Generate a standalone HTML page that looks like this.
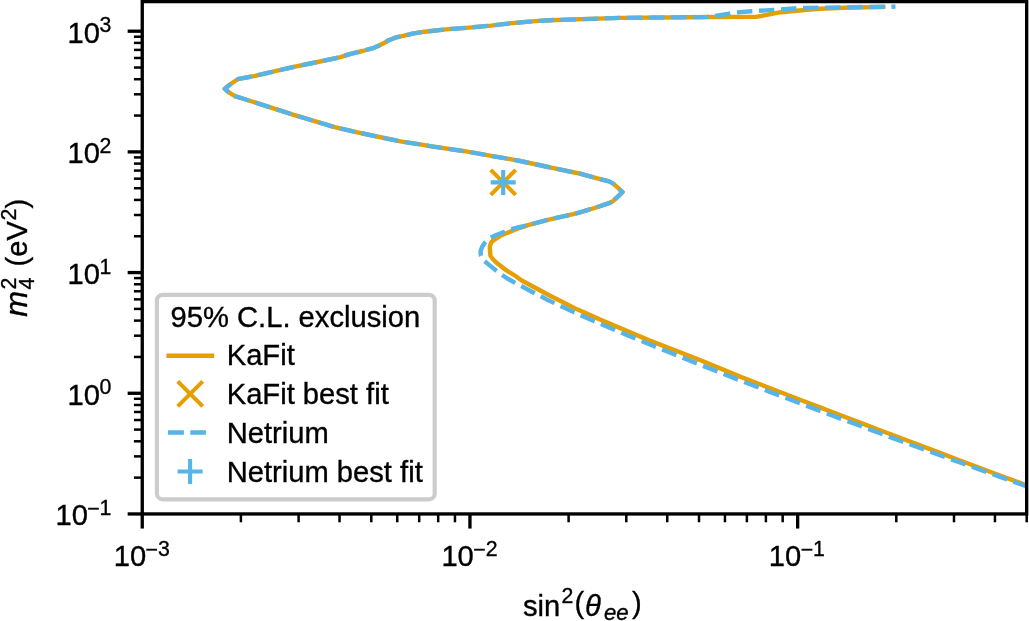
<!DOCTYPE html><html><head><meta charset="utf-8"><title>Plot</title><style>html,body{margin:0;padding:0;background:#fff;overflow:hidden}svg{display:block}</style></head><body><svg width="1029" height="621" viewBox="0 0 1029 621">
<defs><clipPath id="ax"><rect x="142.25" y="1.6" width="884.4200000000001" height="512.35"/></clipPath></defs>
<rect width="1029" height="621" fill="#fff"/>
<g clip-path="url(#ax)" fill="none" stroke-linejoin="round">
<polyline points="885.5,6.9 866.0,7.3 843.0,7.8 820.0,8.7 810.0,9.5 781.0,12.2 756.0,16.9 712.0,17.0 690.0,17.2 620.0,17.9 550.0,20.2 535.3,21.1 512.2,23.1 490.7,25.6 469.2,27.6 446.0,29.4 424.6,31.7 412.4,33.7 404.4,35.7 396.3,37.3 388.3,40.5 383.5,43.3 378.6,45.8 373.8,47.8 362.5,51.0 350.5,53.8 340.5,57.2 320.0,61.5 297.2,66.2 276.2,70.8 255.2,75.8 237.7,79.2 231.0,83.8 224.8,88.8 228.5,92.2 235.0,96.2 248.8,100.5 272.7,108.1 293.7,114.8 314.7,121.2 335.7,127.4 358.4,132.6 379.4,137.0 400.4,141.4 423.2,144.9 430.0,146.1 464.7,151.2 491.2,155.9 511.6,159.4 520.0,161.0 532.0,163.5 551.0,167.6 574.4,172.5 580.0,173.6 594.5,177.6 609.0,181.4 612.9,183.4 616.7,186.7 622.5,192.0 618.6,195.9 612.9,201.2 609.0,203.2 594.5,208.0 580.0,212.3 573.1,214.2 549.9,219.3 528.0,225.1 520.0,227.8 512.6,230.6 501.0,235.5 495.0,239.3 491.3,242.2 489.9,246.0 489.9,249.0 490.4,255.7 492.8,259.0 496.2,262.5 504.9,269.3 515.5,276.0 521.3,280.2 548.6,295.0 577.7,309.6 600.0,319.5 648.6,340.1 700.0,360.0 740.0,376.6 760.0,384.3 780.0,392.0 800.0,399.7 820.0,407.4 840.0,415.0 860.0,422.6 880.0,430.2 900.0,437.8 920.0,445.4 940.0,452.9 960.0,460.5 980.0,468.0 1000.0,475.5 1020.0,482.9 1045.0,492.2" stroke="#E69F00" stroke-width="4.4" stroke-linecap="butt"/>
<polyline points="895.5,6.6 885.0,6.8 850.0,7.2 800.0,8.0 773.5,9.9 759.0,10.8 751.7,11.3 736.5,12.4 729.5,13.6 715.0,16.0 707.0,16.9 700.0,17.1 690.0,17.2 620.0,17.9 550.0,20.2 535.3,21.1 512.2,23.1 490.7,25.6 469.2,27.6 446.0,29.4 424.6,31.7 412.4,33.7 404.4,35.7 396.3,37.3 388.3,40.5 383.5,43.3 378.6,45.8 373.8,47.8 362.5,51.0 350.5,53.8 340.5,57.2 320.0,61.5 297.2,66.2 276.2,70.8 255.2,75.8 237.7,79.2 231.0,83.8" stroke="#56B4E9" stroke-width="4.4" stroke-dasharray="15.42 6.67" stroke-dashoffset="11.30" stroke-linecap="butt"/>
<polyline points="231.0,83.8 224.8,88.8 228.5,92.2 235.0,96.2 248.8,100.5 272.7,108.1 293.7,114.8 314.7,121.2 335.7,127.4 358.4,132.6 379.4,137.0 400.4,141.4 423.2,144.9 430.0,146.1 464.7,151.2 491.2,155.9 511.6,159.4 520.0,161.0 532.0,163.5 551.0,167.6 574.4,172.5 580.0,173.6 594.5,177.6 609.0,181.4 612.9,183.4 616.7,186.7 622.5,192.0 618.6,195.9 612.9,201.2" stroke="#56B4E9" stroke-width="4.4" stroke-dasharray="15.42 6.67" stroke-dashoffset="2.05" stroke-linecap="butt"/>
<polyline points="612.9,201.2 609.0,203.2 594.5,208.0 580.0,212.3 573.1,214.2 549.9,219.3 528.0,225.1 517.6,227.5 510.6,229.4 503.9,232.0 496.9,234.7 490.0,237.8 485.5,242.0 482.3,246.5 480.6,251.0 480.8,255.5 482.8,258.8 484.5,261.2 490.0,265.6 495.5,270.0 502.0,275.0 508.7,279.3 527.2,289.2 546.6,299.4 566.1,308.6 587.5,318.3 606.8,326.5 627.2,335.1 647.6,343.5 668.0,351.8 688.4,360.0 720.0,372.6 740.0,380.4 760.0,388.1 780.0,395.7 800.0,403.3 820.0,410.9 840.0,418.4 860.0,425.8 880.0,433.3 900.0,440.7 920.0,448.0 940.0,455.3 960.0,462.5 980.0,469.7 1000.0,476.9 1020.0,484.0 1045.0,492.9" stroke="#56B4E9" stroke-width="4.4" stroke-dasharray="15.42 6.67" stroke-dashoffset="20.20" stroke-linecap="butt"/>
</g>
<g stroke-width="4.1" fill="none">
<path d="M490.7,169.9L515.7,194.9M490.7,194.9L515.7,169.9" stroke="#E69F00"/>
<path d="M490.7,182.4L515.7,182.4M503.2,169.9L503.2,194.9" stroke="#56B4E9"/>
</g>
<line x1="142.25" y1="513.95" x2="142.25" y2="528.5500000000001" stroke="#000" stroke-width="3.33"/><line x1="240.90" y1="513.95" x2="240.90" y2="522.2800000000001" stroke="#000" stroke-width="2.5"/><line x1="298.60" y1="513.95" x2="298.60" y2="522.2800000000001" stroke="#000" stroke-width="2.5"/><line x1="339.55" y1="513.95" x2="339.55" y2="522.2800000000001" stroke="#000" stroke-width="2.5"/><line x1="371.30" y1="513.95" x2="371.30" y2="522.2800000000001" stroke="#000" stroke-width="2.5"/><line x1="397.25" y1="513.95" x2="397.25" y2="522.2800000000001" stroke="#000" stroke-width="2.5"/><line x1="419.19" y1="513.95" x2="419.19" y2="522.2800000000001" stroke="#000" stroke-width="2.5"/><line x1="438.19" y1="513.95" x2="438.19" y2="522.2800000000001" stroke="#000" stroke-width="2.5"/><line x1="454.96" y1="513.95" x2="454.96" y2="522.2800000000001" stroke="#000" stroke-width="2.5"/><line x1="469.95" y1="513.95" x2="469.95" y2="528.5500000000001" stroke="#000" stroke-width="3.33"/><line x1="568.60" y1="513.95" x2="568.60" y2="522.2800000000001" stroke="#000" stroke-width="2.5"/><line x1="626.30" y1="513.95" x2="626.30" y2="522.2800000000001" stroke="#000" stroke-width="2.5"/><line x1="667.25" y1="513.95" x2="667.25" y2="522.2800000000001" stroke="#000" stroke-width="2.5"/><line x1="699.00" y1="513.95" x2="699.00" y2="522.2800000000001" stroke="#000" stroke-width="2.5"/><line x1="724.95" y1="513.95" x2="724.95" y2="522.2800000000001" stroke="#000" stroke-width="2.5"/><line x1="746.89" y1="513.95" x2="746.89" y2="522.2800000000001" stroke="#000" stroke-width="2.5"/><line x1="765.89" y1="513.95" x2="765.89" y2="522.2800000000001" stroke="#000" stroke-width="2.5"/><line x1="782.66" y1="513.95" x2="782.66" y2="522.2800000000001" stroke="#000" stroke-width="2.5"/><line x1="797.65" y1="513.95" x2="797.65" y2="528.5500000000001" stroke="#000" stroke-width="3.33"/><line x1="896.30" y1="513.95" x2="896.30" y2="522.2800000000001" stroke="#000" stroke-width="2.5"/><line x1="954.00" y1="513.95" x2="954.00" y2="522.2800000000001" stroke="#000" stroke-width="2.5"/><line x1="994.95" y1="513.95" x2="994.95" y2="522.2800000000001" stroke="#000" stroke-width="2.5"/><line x1="1026.70" y1="513.95" x2="1026.70" y2="522.2800000000001" stroke="#000" stroke-width="2.5"/><line x1="142.25" y1="513.96" x2="127.65" y2="513.96" stroke="#000" stroke-width="3.33"/><line x1="142.25" y1="477.63" x2="133.92" y2="477.63" stroke="#000" stroke-width="2.5"/><line x1="142.25" y1="456.38" x2="133.92" y2="456.38" stroke="#000" stroke-width="2.5"/><line x1="142.25" y1="441.30" x2="133.92" y2="441.30" stroke="#000" stroke-width="2.5"/><line x1="142.25" y1="429.60" x2="133.92" y2="429.60" stroke="#000" stroke-width="2.5"/><line x1="142.25" y1="420.04" x2="133.92" y2="420.04" stroke="#000" stroke-width="2.5"/><line x1="142.25" y1="411.97" x2="133.92" y2="411.97" stroke="#000" stroke-width="2.5"/><line x1="142.25" y1="404.97" x2="133.92" y2="404.97" stroke="#000" stroke-width="2.5"/><line x1="142.25" y1="398.79" x2="133.92" y2="398.79" stroke="#000" stroke-width="2.5"/><line x1="142.25" y1="393.27" x2="127.65" y2="393.27" stroke="#000" stroke-width="3.33"/><line x1="142.25" y1="356.94" x2="133.92" y2="356.94" stroke="#000" stroke-width="2.5"/><line x1="142.25" y1="335.69" x2="133.92" y2="335.69" stroke="#000" stroke-width="2.5"/><line x1="142.25" y1="320.61" x2="133.92" y2="320.61" stroke="#000" stroke-width="2.5"/><line x1="142.25" y1="308.91" x2="133.92" y2="308.91" stroke="#000" stroke-width="2.5"/><line x1="142.25" y1="299.35" x2="133.92" y2="299.35" stroke="#000" stroke-width="2.5"/><line x1="142.25" y1="291.28" x2="133.92" y2="291.28" stroke="#000" stroke-width="2.5"/><line x1="142.25" y1="284.28" x2="133.92" y2="284.28" stroke="#000" stroke-width="2.5"/><line x1="142.25" y1="278.10" x2="133.92" y2="278.10" stroke="#000" stroke-width="2.5"/><line x1="142.25" y1="272.58" x2="127.65" y2="272.58" stroke="#000" stroke-width="3.33"/><line x1="142.25" y1="236.25" x2="133.92" y2="236.25" stroke="#000" stroke-width="2.5"/><line x1="142.25" y1="215.00" x2="133.92" y2="215.00" stroke="#000" stroke-width="2.5"/><line x1="142.25" y1="199.92" x2="133.92" y2="199.92" stroke="#000" stroke-width="2.5"/><line x1="142.25" y1="188.22" x2="133.92" y2="188.22" stroke="#000" stroke-width="2.5"/><line x1="142.25" y1="178.66" x2="133.92" y2="178.66" stroke="#000" stroke-width="2.5"/><line x1="142.25" y1="170.59" x2="133.92" y2="170.59" stroke="#000" stroke-width="2.5"/><line x1="142.25" y1="163.59" x2="133.92" y2="163.59" stroke="#000" stroke-width="2.5"/><line x1="142.25" y1="157.41" x2="133.92" y2="157.41" stroke="#000" stroke-width="2.5"/><line x1="142.25" y1="151.89" x2="127.65" y2="151.89" stroke="#000" stroke-width="3.33"/><line x1="142.25" y1="115.56" x2="133.92" y2="115.56" stroke="#000" stroke-width="2.5"/><line x1="142.25" y1="94.31" x2="133.92" y2="94.31" stroke="#000" stroke-width="2.5"/><line x1="142.25" y1="79.23" x2="133.92" y2="79.23" stroke="#000" stroke-width="2.5"/><line x1="142.25" y1="67.53" x2="133.92" y2="67.53" stroke="#000" stroke-width="2.5"/><line x1="142.25" y1="57.97" x2="133.92" y2="57.97" stroke="#000" stroke-width="2.5"/><line x1="142.25" y1="49.90" x2="133.92" y2="49.90" stroke="#000" stroke-width="2.5"/><line x1="142.25" y1="42.90" x2="133.92" y2="42.90" stroke="#000" stroke-width="2.5"/><line x1="142.25" y1="36.72" x2="133.92" y2="36.72" stroke="#000" stroke-width="2.5"/><line x1="142.25" y1="31.20" x2="127.65" y2="31.20" stroke="#000" stroke-width="3.33"/>
<rect x="142.25" y="1.6" width="884.4200000000001" height="512.35" fill="none" stroke="#000" stroke-width="3.33" stroke-linejoin="miter"/>
<rect x="156.9" y="294.9" width="277.79999999999995" height="204.40000000000003" rx="5.8" fill="#fff" fill-opacity="0.8" stroke="#cccccc" stroke-width="4.17"/>
<line x1="166.4" y1="355.7" x2="214.2" y2="355.7" stroke="#E69F00" stroke-width="4.4"/>
<path d="M177.7,381.4L202.7,406.4M177.7,406.4L202.7,381.4" stroke="#E69F00" stroke-width="4.1"/>
<path d="M168,432.5H183.9M190.3,432.5H205.9" stroke="#56B4E9" stroke-width="4.4"/>
<path d="M177.6,471.5L202.6,471.5M190.1,459.0L190.1,484.0" stroke="#56B4E9" stroke-width="4.1"/>
<g font-family="'Liberation Sans', Arial, Helvetica, sans-serif" fill="#000" stroke="#000" stroke-width="0.35"><text x="67.6" y="42.70" font-size="29.17">10</text><text x="99.6" y="32.20" font-size="21.3">3</text><text x="67.6" y="163.39" font-size="29.17">10</text><text x="99.6" y="152.89" font-size="21.3">2</text><text x="67.6" y="284.08" font-size="29.17">10</text><text x="99.6" y="273.58" font-size="21.3">1</text><text x="67.6" y="404.77" font-size="29.17">10</text><text x="99.6" y="394.27" font-size="21.3">0</text><text x="55.5" y="525.06" font-size="29.17">10</text><text x="87.2" y="516.16" font-size="21.3">−</text><text x="99.6" y="514.56" font-size="21.3">1</text><text x="113.70" y="565.60" font-size="29.17">10</text><text x="145.60" y="557.10" font-size="21.3">−</text><text x="158.00" y="555.80" font-size="21.3">3</text><text x="441.40" y="565.60" font-size="29.17">10</text><text x="473.30" y="557.10" font-size="21.3">−</text><text x="485.70" y="555.80" font-size="21.3">2</text><text x="768.80" y="565.60" font-size="29.17">10</text><text x="800.70" y="557.10" font-size="21.3">−</text><text x="813.10" y="555.80" font-size="21.3">1</text><text x="523" y="615.5" font-size="29.17">sin</text><text x="561.5" y="603.3" font-size="21.3">2</text><text x="574.5" y="613" font-size="29.17">(</text><text x="585" y="615.5" font-size="29.17" font-style="italic">θ</text><text x="604" y="620" font-size="22.2" font-style="italic">ee</text><text x="632" y="613" font-size="29.17">)</text><g transform="translate(27,316.5) rotate(-90)"><text x="-0.3" y="0" font-size="31" font-style="italic">m</text><text x="27" y="-11" font-size="21.3">2</text><text x="27" y="7.4" font-size="21.3">4</text><text x="50" y="0" font-size="29.17">(eV</text><text x="96" y="-11" font-size="21.3">2</text><text x="108" y="0" font-size="29.17">)</text></g><text x="170.6" y="327.3" font-size="29.17">95% C.L. exclusion</text><text x="226.7" y="365.4" font-size="29.17">KaFit</text><text x="226.7" y="404.3" font-size="29.17">KaFit best fit</text><text x="226.7" y="442.8" font-size="29.17">Netrium</text><text x="226.7" y="482" font-size="29.17">Netrium best fit</text></g>
</svg></body></html>
